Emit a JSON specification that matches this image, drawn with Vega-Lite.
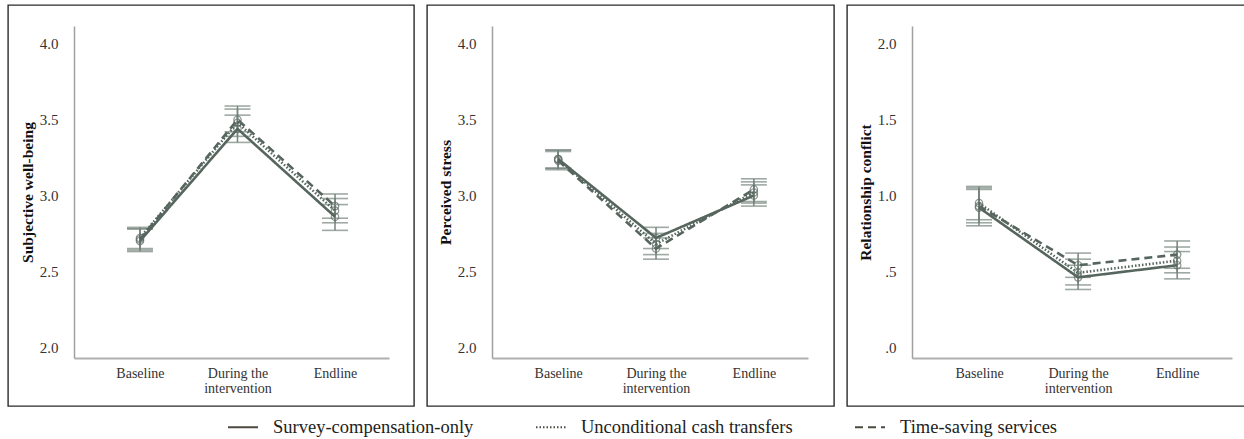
{
  "$schema": "https://vega.github.io/schema/vega-lite/v6.json",
  "background": "white",
  "padding": {"left": 7, "top": 4, "right": 0, "bottom": 0},
  "spacing": 11,
  "data": {"values": [
    {"panel": "SWB", "group": "Survey-compensation-only", "time": "Baseline", "mean": 2.70, "lo": 2.63, "hi": 2.78},
    {"panel": "SWB", "group": "Survey-compensation-only", "time": "During the intervention", "mean": 3.44, "lo": 3.35, "hi": 3.53},
    {"panel": "SWB", "group": "Survey-compensation-only", "time": "Endline", "mean": 2.86, "lo": 2.77, "hi": 2.94},
    {"panel": "SWB", "group": "Unconditional cash transfers", "time": "Baseline", "mean": 2.72, "lo": 2.65, "hi": 2.79},
    {"panel": "SWB", "group": "Unconditional cash transfers", "time": "During the intervention", "mean": 3.48, "lo": 3.39, "hi": 3.57},
    {"panel": "SWB", "group": "Unconditional cash transfers", "time": "Endline", "mean": 2.90, "lo": 2.82, "hi": 2.98},
    {"panel": "SWB", "group": "Time-saving services", "time": "Baseline", "mean": 2.71, "lo": 2.64, "hi": 2.78},
    {"panel": "SWB", "group": "Time-saving services", "time": "During the intervention", "mean": 3.50, "lo": 3.42, "hi": 3.59},
    {"panel": "SWB", "group": "Time-saving services", "time": "Endline", "mean": 2.93, "lo": 2.85, "hi": 3.01},
    {"panel": "PS", "group": "Survey-compensation-only", "time": "Baseline", "mean": 3.24, "lo": 3.18, "hi": 3.30},
    {"panel": "PS", "group": "Survey-compensation-only", "time": "During the intervention", "mean": 2.72, "lo": 2.65, "hi": 2.79},
    {"panel": "PS", "group": "Survey-compensation-only", "time": "Endline", "mean": 3.00, "lo": 2.93, "hi": 3.07},
    {"panel": "PS", "group": "Unconditional cash transfers", "time": "Baseline", "mean": 3.24, "lo": 3.18, "hi": 3.30},
    {"panel": "PS", "group": "Unconditional cash transfers", "time": "During the intervention", "mean": 2.68, "lo": 2.61, "hi": 2.75},
    {"panel": "PS", "group": "Unconditional cash transfers", "time": "Endline", "mean": 3.02, "lo": 2.95, "hi": 3.09},
    {"panel": "PS", "group": "Time-saving services", "time": "Baseline", "mean": 3.23, "lo": 3.17, "hi": 3.29},
    {"panel": "PS", "group": "Time-saving services", "time": "During the intervention", "mean": 2.65, "lo": 2.58, "hi": 2.72},
    {"panel": "PS", "group": "Time-saving services", "time": "Endline", "mean": 3.04, "lo": 2.96, "hi": 3.11},
    {"panel": "RC", "group": "Survey-compensation-only", "time": "Baseline", "mean": 0.92, "lo": 0.80, "hi": 1.04},
    {"panel": "RC", "group": "Survey-compensation-only", "time": "During the intervention", "mean": 0.46, "lo": 0.38, "hi": 0.54},
    {"panel": "RC", "group": "Survey-compensation-only", "time": "Endline", "mean": 0.54, "lo": 0.45, "hi": 0.63},
    {"panel": "RC", "group": "Unconditional cash transfers", "time": "Baseline", "mean": 0.95, "lo": 0.84, "hi": 1.06},
    {"panel": "RC", "group": "Unconditional cash transfers", "time": "During the intervention", "mean": 0.49, "lo": 0.41, "hi": 0.58},
    {"panel": "RC", "group": "Unconditional cash transfers", "time": "Endline", "mean": 0.57, "lo": 0.49, "hi": 0.66},
    {"panel": "RC", "group": "Time-saving services", "time": "Baseline", "mean": 0.93, "lo": 0.82, "hi": 1.05},
    {"panel": "RC", "group": "Time-saving services", "time": "During the intervention", "mean": 0.54, "lo": 0.46, "hi": 0.62},
    {"panel": "RC", "group": "Time-saving services", "time": "Endline", "mean": 0.61, "lo": 0.52, "hi": 0.70}
  ]},
  "resolve": {"scale": {"strokeDash": "shared"}, "legend": {"strokeDash": "shared"}},
  "hconcat": [
    {
      "width": 406, "height": 401,
      "transform": [{"filter": "datum.panel == 'SWB'"}],
      "encoding": {
        "x": {"field": "time", "type": "ordinal", "sort": ["Baseline", "During the intervention", "Endline"],
          "scale": {"type": "point", "range": [66, 381], "padding": 0.615, "align": 0.55},
          "axis": {"title": null, "offset": -48, "labelAngle": 0, "ticks": false, "domainColor": "#b0b0b0", "domainWidth": 2, "labelPadding": 8,
            "labelExpr": "datum.value == 'During the intervention' ? ['During the', 'intervention'] : datum.label"}}
      },
      "layer": [
        {"mark": {"type": "rule", "color": "#76857d", "strokeWidth": 1.5},
         "encoding": {"y": {"field": "lo", "type": "quantitative", "title": "Subjective well-being", "scale": {"domain": [1.928, 4.118], "range": [353, 21], "nice": false, "zero": false},
            "axis": {"offset": -66, "values": [2, 2.5, 3, 3.5, 4], "format": ".1f", "ticks": false, "grid": false, "domainColor": "#a0a0a0", "domainWidth": 1.5, "labelPadding": 16, "titlePadding": 4}},
           "y2": {"field": "hi"}, "detail": {"field": "group"}}},
        {"mark": {"type": "tick", "color": "#76857d", "size": 26, "thickness": 1.6},
         "encoding": {"y": {"field": "lo", "type": "quantitative", "title": "Subjective well-being"}, "detail": {"field": "group"}}},
        {"mark": {"type": "tick", "color": "#76857d", "size": 26, "thickness": 1.6},
         "encoding": {"y": {"field": "hi", "type": "quantitative", "title": "Subjective well-being"}, "detail": {"field": "group"}}},
        {"mark": {"type": "line", "color": "#56665e", "strokeWidth": 2.6},
         "encoding": {"y": {"field": "mean", "type": "quantitative", "title": "Subjective well-being"},
           "strokeDash": {"field": "group", "type": "nominal", "sort": ["Survey-compensation-only", "Unconditional cash transfers", "Time-saving services"],
             "scale": {"domain": ["Survey-compensation-only", "Unconditional cash transfers", "Time-saving services"], "range": [[1, 0], [1.5, 2], [8, 5]]},
             "legend": {"title": null, "orient": "none", "legendX": 219, "legendY": 406, "direction": "horizontal", "symbolType": "stroke", "symbolSize": 900, "symbolStrokeWidth": 2, "symbolStrokeColor": "#4d4a40", "labelFontSize": 18.5, "labelOffset": 14, "columnPadding": 58}}}},
        {"mark": {"type": "point", "filled": false, "color": "#5d6b64", "size": 55, "strokeWidth": 1.2},
         "encoding": {"y": {"field": "mean", "type": "quantitative", "title": "Subjective well-being"}, "detail": {"field": "group"}}}
      ]
    },
    {
      "width": 407, "height": 401,
      "transform": [{"filter": "datum.panel == 'PS'"}],
      "encoding": {
        "x": {"field": "time", "type": "ordinal", "sort": ["Baseline", "During the intervention", "Endline"],
          "scale": {"type": "point", "range": [65, 381], "padding": 0.615, "align": 0.55},
          "axis": {"title": null, "offset": -48, "labelAngle": 0, "ticks": false, "domainColor": "#b0b0b0", "domainWidth": 2, "labelPadding": 8,
            "labelExpr": "datum.value == 'During the intervention' ? ['During the', 'intervention'] : datum.label"}}
      },
      "layer": [
        {"mark": {"type": "rule", "color": "#76857d", "strokeWidth": 1.5},
         "encoding": {"y": {"field": "lo", "type": "quantitative", "title": "Perceived stress", "scale": {"domain": [1.928, 4.118], "range": [353, 21], "nice": false, "zero": false},
            "axis": {"offset": -65, "values": [2, 2.5, 3, 3.5, 4], "format": ".1f", "ticks": false, "grid": false, "domainColor": "#a0a0a0", "domainWidth": 1.5, "labelPadding": 16, "titlePadding": 4}},
           "y2": {"field": "hi"}, "detail": {"field": "group"}}},
        {"mark": {"type": "tick", "color": "#76857d", "size": 26, "thickness": 1.6},
         "encoding": {"y": {"field": "lo", "type": "quantitative", "title": "Perceived stress"}, "detail": {"field": "group"}}},
        {"mark": {"type": "tick", "color": "#76857d", "size": 26, "thickness": 1.6},
         "encoding": {"y": {"field": "hi", "type": "quantitative", "title": "Perceived stress"}, "detail": {"field": "group"}}},
        {"mark": {"type": "line", "color": "#56665e", "strokeWidth": 2.6},
         "encoding": {"y": {"field": "mean", "type": "quantitative", "title": "Perceived stress"},
           "strokeDash": {"field": "group", "type": "nominal", "sort": ["Survey-compensation-only", "Unconditional cash transfers", "Time-saving services"],
             "scale": {"domain": ["Survey-compensation-only", "Unconditional cash transfers", "Time-saving services"], "range": [[1, 0], [1.5, 2], [8, 5]]},
             "legend": {"title": null, "orient": "none", "legendX": 219, "legendY": 406, "direction": "horizontal", "symbolType": "stroke", "symbolSize": 900, "symbolStrokeWidth": 2, "symbolStrokeColor": "#4d4a40", "labelFontSize": 18.5, "labelOffset": 14, "columnPadding": 58}}}},
        {"mark": {"type": "point", "filled": false, "color": "#5d6b64", "size": 55, "strokeWidth": 1.2},
         "encoding": {"y": {"field": "mean", "type": "quantitative", "title": "Perceived stress"}, "detail": {"field": "group"}}}
      ]
    },
    {
      "width": 402, "height": 401,
      "transform": [{"filter": "datum.panel == 'RC'"}],
      "encoding": {
        "x": {"field": "time", "type": "ordinal", "sort": ["Baseline", "During the intervention", "Endline"],
          "scale": {"type": "point", "range": [65, 385], "padding": 0.615, "align": 0.55},
          "axis": {"title": null, "offset": -48, "labelAngle": 0, "ticks": false, "domainColor": "#b0b0b0", "domainWidth": 2, "labelPadding": 8,
            "labelExpr": "datum.value == 'During the intervention' ? ['During the', 'intervention'] : datum.label"}}
      },
      "layer": [
        {"mark": {"type": "rule", "color": "#76857d", "strokeWidth": 1.5},
         "encoding": {"y": {"field": "lo", "type": "quantitative", "title": "Relationship conflict", "scale": {"domain": [-0.072, 2.118], "range": [353, 21], "nice": false, "zero": false},
            "axis": {"offset": -65, "values": [0, 0.5, 1, 1.5, 2], "ticks": false, "grid": false, "domainColor": "#a0a0a0", "domainWidth": 1.5, "labelPadding": 16, "titlePadding": 4,
              "labelExpr": "replace(format(datum.value, '.1f'), '0.', '.')"}},
           "y2": {"field": "hi"}, "detail": {"field": "group"}}},
        {"mark": {"type": "tick", "color": "#76857d", "size": 26, "thickness": 1.6},
         "encoding": {"y": {"field": "lo", "type": "quantitative", "title": "Relationship conflict"}, "detail": {"field": "group"}}},
        {"mark": {"type": "tick", "color": "#76857d", "size": 26, "thickness": 1.6},
         "encoding": {"y": {"field": "hi", "type": "quantitative", "title": "Relationship conflict"}, "detail": {"field": "group"}}},
        {"mark": {"type": "line", "color": "#56665e", "strokeWidth": 2.6},
         "encoding": {"y": {"field": "mean", "type": "quantitative", "title": "Relationship conflict"},
           "strokeDash": {"field": "group", "type": "nominal", "sort": ["Survey-compensation-only", "Unconditional cash transfers", "Time-saving services"],
             "scale": {"domain": ["Survey-compensation-only", "Unconditional cash transfers", "Time-saving services"], "range": [[1, 0], [1.5, 2], [8, 5]]},
             "legend": {"title": null, "orient": "none", "legendX": 219, "legendY": 406, "direction": "horizontal", "symbolType": "stroke", "symbolSize": 900, "symbolStrokeWidth": 2, "symbolStrokeColor": "#4d4a40", "labelFontSize": 18.5, "labelOffset": 14, "columnPadding": 58}}}},
        {"mark": {"type": "point", "filled": false, "color": "#5d6b64", "size": 55, "strokeWidth": 1.2},
         "encoding": {"y": {"field": "mean", "type": "quantitative", "title": "Relationship conflict"}, "detail": {"field": "group"}}}
      ]
    }
  ],
  "config": {
    "font": "Liberation Serif",
    "view": {"stroke": "#2a2a2a", "strokeWidth": 1.4},
    "axis": {"labelFont": "Liberation Serif", "labelFontSize": 15, "labelColor": "#333", "titleFont": "Liberation Serif", "titleFontSize": 15.5, "titleFontWeight": "bold", "titleColor": "#111"},
    "axisX": {"labelFontSize": 14, "labelLineHeight": 15},
    "legend": {"labelFont": "Liberation Serif", "labelColor": "#222", "labelLimit": 400, "labelFontSize": 18.5}
  }
}
